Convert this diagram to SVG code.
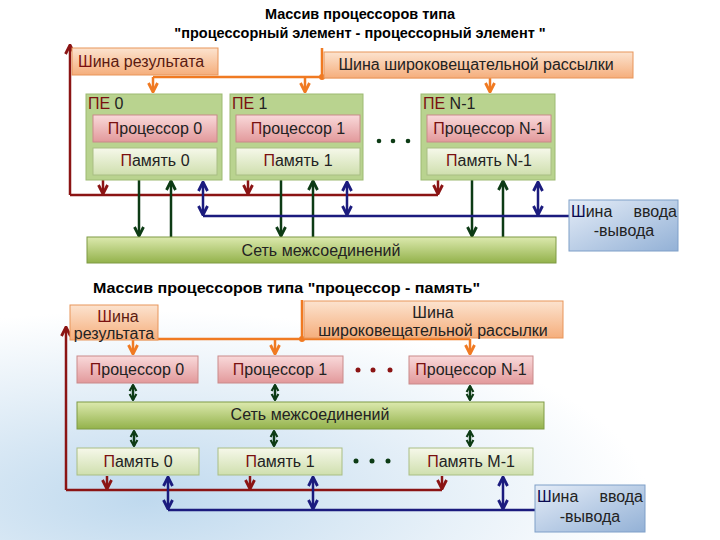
<svg xmlns="http://www.w3.org/2000/svg" width="720" height="540" viewBox="0 0 720 540">
<defs>
<style>
text{font-family:"Liberation Sans",Arial,sans-serif;font-size:16px;fill:#222}
.title{font-weight:bold;font-size:14.5px;fill:#000}
.orb{fill:url(#gOr);stroke:#E8955A;stroke-width:1}
.pe{fill:#B9D38F;stroke:#9DBA72;stroke-width:1}
.proc{fill:url(#gPr);stroke:#C98A8A;stroke-width:1}
.mem{fill:url(#gMe);stroke:#A9BE84;stroke-width:1}
.net{fill:url(#gNet);stroke:#7E9A45;stroke-width:1}
.io{fill:url(#gIo);stroke:#7F9FC8;stroke-width:1}
.red{stroke:#8B1414;stroke-width:2.5;fill:none}
.grn{stroke:#0D3B15;stroke-width:2.5;fill:none}
.blu{stroke:#1B1B7E;stroke-width:2.5;fill:none}
.org{stroke:#F07A22;stroke-width:2.5;fill:none}
.dr{fill:#7A1010}
</style>
<linearGradient id="gOr" x1="0" y1="0" x2="0" y2="1"><stop offset="0" stop-color="#FCE3CF"/><stop offset="1" stop-color="#F5AE7C"/></linearGradient>
<linearGradient id="gPr" x1="0" y1="0" x2="0" y2="1"><stop offset="0" stop-color="#F9D9DA"/><stop offset="1" stop-color="#E2999B"/></linearGradient>
<linearGradient id="gMe" x1="0" y1="0" x2="0" y2="1"><stop offset="0" stop-color="#F6F8EA"/><stop offset="1" stop-color="#CFDFAE"/></linearGradient>
<linearGradient id="gNet" x1="0" y1="0" x2="0" y2="1"><stop offset="0" stop-color="#DCE9AE"/><stop offset="1" stop-color="#93B24B"/></linearGradient>
<linearGradient id="gIo" x1="0" y1="0" x2="1" y2="1"><stop offset="0" stop-color="#E4ECF7"/><stop offset="1" stop-color="#93B1D6"/></linearGradient>
<radialGradient id="gBg" cx="0.2" cy="0.85" r="0.7"><stop offset="0" stop-color="#BFD9EE"/><stop offset="0.6" stop-color="#E6F0F8"/><stop offset="1" stop-color="#FFFFFF"/></radialGradient>
<marker id="aR" viewBox="0 0 10 10" refX="9" refY="5" markerWidth="4.5" markerHeight="4.5" orient="auto-start-reverse"><path d="M1,1 L9,5 L1,9" fill="none" stroke="#8B1414" stroke-width="2.5"/></marker>
<marker id="aG" viewBox="0 0 10 10" refX="9" refY="5" markerWidth="4.5" markerHeight="4.5" orient="auto-start-reverse"><path d="M1,1 L9,5 L1,9" fill="none" stroke="#0D3B15" stroke-width="2.5"/></marker>
<marker id="aGs" viewBox="0 0 10 10" refX="9" refY="5" markerWidth="3.4" markerHeight="4" orient="auto-start-reverse"><path d="M2,1 L9,5 L2,9" fill="none" stroke="#0D3B15" stroke-width="2.5"/></marker>
<marker id="aB" viewBox="0 0 10 10" refX="9" refY="5" markerWidth="4.5" markerHeight="4.5" orient="auto-start-reverse"><path d="M1,1 L9,5 L1,9" fill="none" stroke="#1B1B7E" stroke-width="2.5"/></marker>
<marker id="aO" viewBox="0 0 10 10" refX="9" refY="5" markerWidth="4.5" markerHeight="4.5" orient="auto-start-reverse"><path d="M1,1 L9,5 L1,9" fill="none" stroke="#F07A22" stroke-width="2.5"/></marker>
</defs>
<rect x="0" y="0" width="720" height="540" fill="#FFFFFF"/>
<rect x="0" y="270" width="720" height="270" fill="url(#gBg)"/>

<text class="title" x="360" y="19" text-anchor="middle">Массив процессоров типа</text>
<text class="title" x="360" y="38" text-anchor="middle">"процессорный элемент - процессорный элемент "</text>
<text class="title" x="93" y="293" textLength="387" lengthAdjust="spacingAndGlyphs">Массив процессоров типа "процессор - память"</text>

<g id="connectors">
<!-- top section -->
<path class="red" d="M70,195 L70,45" marker-end="url(#aR)"/>
<path class="red" d="M70,195 L438,195"/>
<path class="red" d="M103,180 L103,194" marker-end="url(#aR)"/>
<path class="red" d="M248,180 L248,194" marker-end="url(#aR)"/>
<path class="red" d="M438,180 L438,194" marker-end="url(#aR)"/>
<path class="org" d="M322,48 L322,77 M153,77 L490,77"/>
<circle cx="322" cy="77" r="3" fill="#F07A22"/>
<path class="org" d="M153,77 L153,92" marker-end="url(#aO)"/>
<path class="org" d="M305,77 L305,92" marker-end="url(#aO)"/>
<path class="org" d="M490,77 L490,92" marker-end="url(#aO)"/>
<path class="grn" d="M139,180 L139,236" marker-end="url(#aG)"/>
<path class="grn" d="M171,237 L171,181" marker-end="url(#aG)"/>
<path class="grn" d="M281,180 L281,236" marker-end="url(#aG)"/>
<path class="grn" d="M313,237 L313,181" marker-end="url(#aG)"/>
<path class="grn" d="M472,180 L472,236" marker-end="url(#aG)"/>
<path class="grn" d="M503,237 L503,181" marker-end="url(#aG)"/>
<path class="blu" d="M203,216 L570,216"/>
<path class="blu" d="M203,182 L203,215" marker-start="url(#aB)" marker-end="url(#aB)"/>
<path class="blu" d="M347,182 L347,215" marker-start="url(#aB)" marker-end="url(#aB)"/>
<path class="blu" d="M538,182 L538,215" marker-start="url(#aB)" marker-end="url(#aB)"/>
<!-- bottom section -->
<path class="red" d="M66,490 L66,327" marker-end="url(#aR)"/>
<path class="red" d="M66,490 L442,490"/>
<path class="red" d="M107,476 L107,489" marker-end="url(#aR)"/>
<path class="red" d="M250,476 L250,489" marker-end="url(#aR)"/>
<path class="red" d="M442,476 L442,489" marker-end="url(#aR)"/>
<path class="org" d="M302,300 L302,339 M133,339 L470,339"/>
<circle cx="302" cy="339" r="3" fill="#F07A22"/>
<path class="org" d="M133,339 L133,354" marker-end="url(#aO)"/>
<path class="org" d="M275,339 L275,354" marker-end="url(#aO)"/>
<path class="org" d="M470,339 L470,354" marker-end="url(#aO)"/>
<path class="grn" d="M133,385 L133,400" marker-start="url(#aGs)" marker-end="url(#aGs)"/>
<path class="grn" d="M275,385 L275,400" marker-start="url(#aGs)" marker-end="url(#aGs)"/>
<path class="grn" d="M470,386 L470,400" marker-start="url(#aGs)" marker-end="url(#aGs)"/>
<path class="grn" d="M134,431 L134,446" marker-start="url(#aGs)" marker-end="url(#aGs)"/>
<path class="grn" d="M274,431 L274,446" marker-start="url(#aGs)" marker-end="url(#aGs)"/>
<path class="grn" d="M470,431 L470,446" marker-start="url(#aGs)" marker-end="url(#aGs)"/>
<path class="blu" d="M168,510 L535,510"/>
<path class="blu" d="M168,477 L168,509" marker-start="url(#aB)" marker-end="url(#aB)"/>
<path class="blu" d="M313,477 L313,509" marker-start="url(#aB)" marker-end="url(#aB)"/>
<path class="blu" d="M503,477 L503,509" marker-start="url(#aB)" marker-end="url(#aB)"/>
</g>

<!-- top section nodes -->
<g id="result-bus-1"><rect class="orb" x="72" y="48" width="146" height="27"/><text x="78" y="67"><tspan class="dr">Ш</tspan><tspan fill="#5A1A10">ина результата</tspan></text></g>
<g id="broadcast-bus-1"><rect class="orb" x="324" y="52" width="309" height="26"/><text x="476" y="70" text-anchor="middle" fill="#E8701A">Шина широковещательной рассылки</text></g>

<g id="pe0"><rect class="pe" x="86" y="94" width="136" height="86"/><text x="88" y="109" font-size="15"><tspan class="dr">ПЕ</tspan> 0</text></g>
<g id="proc0-1"><rect class="proc" x="93" y="115" width="124" height="27"/><text x="155" y="134" text-anchor="middle"><tspan class="dr">П</tspan>роцессор 0</text></g>
<g id="mem0-1"><rect class="mem" x="93" y="148" width="124" height="27"/><text x="155" y="166" text-anchor="middle"><tspan class="dr">П</tspan>амять 0</text></g>

<g id="pe1"><rect class="pe" x="230" y="94" width="133" height="86"/><text x="232" y="109" font-size="15"><tspan class="dr">ПЕ</tspan> 1</text></g>
<g id="proc1-1"><rect class="proc" x="236" y="115" width="124" height="27"/><text x="298" y="134" text-anchor="middle"><tspan class="dr">П</tspan>роцессор 1</text></g>
<g id="mem1-1"><rect class="mem" x="236" y="148" width="124" height="27"/><text x="298" y="166" text-anchor="middle"><tspan class="dr">П</tspan>амять 1</text></g>

<g id="dots-1"><circle cx="379" cy="141" r="2.3" fill="#0D3B15"/><circle cx="393" cy="141" r="2.3" fill="#0D3B15"/><circle cx="408" cy="141" r="2.3" fill="#0D3B15"/></g>

<g id="pen1"><rect class="pe" x="421" y="94" width="134" height="86"/><text x="423" y="109" font-size="15"><tspan class="dr">ПЕ</tspan> N-1</text></g>
<g id="procn-1"><rect class="proc" x="427" y="115" width="124" height="27"/><text x="489" y="134" text-anchor="middle"><tspan class="dr">П</tspan>роцессор N-1</text></g>
<g id="memn-1"><rect class="mem" x="427" y="148" width="124" height="27"/><text x="489" y="166" text-anchor="middle"><tspan class="dr">П</tspan>амять N-1</text></g>

<g id="net-1"><rect class="net" x="87" y="237" width="469" height="26"/><text x="321" y="256" text-anchor="middle">Сеть межсоединений</text></g>
<g id="io-1"><rect class="io" x="569" y="200" width="109" height="51"/><text x="571" y="217" fill="#1B1B5E"><tspan fill="#0A0A50">Ш</tspan>ина</text><text x="677" y="217" text-anchor="end" fill="#1B1B5E">ввода</text><text x="624" y="236" text-anchor="middle" fill="#1B1B5E">-вывода</text></g>

<!-- bottom section nodes -->
<g id="result-bus-2"><rect class="orb" x="70" y="305" width="88" height="35"/><text x="118" y="322" text-anchor="middle"><tspan class="dr">Ш</tspan><tspan fill="#5A1A10">ина</tspan></text><text x="114" y="339" text-anchor="middle" fill="#5A1A10">результата</text></g>
<g id="broadcast-bus-2"><rect class="orb" x="304" y="301" width="259" height="37"/><text x="433" y="318" text-anchor="middle" fill="#E8701A">Шина</text><text x="433" y="336" text-anchor="middle" fill="#E8701A">широковещательной рассылки</text></g>

<g id="proc0-2"><rect class="proc" x="77" y="356" width="121" height="27"/><text x="137" y="375" text-anchor="middle"><tspan class="dr">П</tspan>роцессор 0</text></g>
<g id="proc1-2"><rect class="proc" x="218" y="356" width="125" height="27"/><text x="280" y="375" text-anchor="middle"><tspan class="dr">П</tspan>роцессор 1</text></g>
<g id="dots-2"><circle cx="358" cy="370" r="2.5" fill="#8B1414"/><circle cx="373" cy="370" r="2.5" fill="#8B1414"/><circle cx="390" cy="370" r="2.5" fill="#8B1414"/></g>
<g id="procn-2"><rect class="proc" x="409" y="356" width="124" height="28"/><text x="471" y="375" text-anchor="middle"><tspan class="dr">П</tspan>роцессор N-1</text></g>

<g id="net-2"><rect class="net" x="77" y="402" width="467" height="27"/><text x="310" y="420" text-anchor="middle">Сеть межсоединений</text></g>

<g id="mem0-2"><rect class="mem" x="77" y="448" width="122" height="27"/><text x="138" y="467" text-anchor="middle"><tspan class="dr">П</tspan>амять 0</text></g>
<g id="mem1-2"><rect class="mem" x="218" y="448" width="124" height="27"/><text x="280" y="467" text-anchor="middle"><tspan class="dr">П</tspan>амять 1</text></g>
<g id="dots-3"><circle cx="356" cy="461" r="2.5" fill="#0D3B15"/><circle cx="372" cy="461" r="2.5" fill="#0D3B15"/><circle cx="388" cy="461" r="2.5" fill="#0D3B15"/></g>
<g id="memm-2"><rect class="mem" x="409" y="448" width="124" height="27"/><text x="471" y="467" text-anchor="middle"><tspan class="dr">П</tspan>амять М-1</text></g>

<g id="io-2"><rect class="io" x="535" y="485" width="110" height="47"/><text x="537" y="502" fill="#1B1B5E"><tspan fill="#0A0A50">Ш</tspan>ина</text><text x="643" y="502" text-anchor="end" fill="#1B1B5E">ввода</text><text x="590" y="522" text-anchor="middle" fill="#1B1B5E">-вывода</text></g>
</svg>
